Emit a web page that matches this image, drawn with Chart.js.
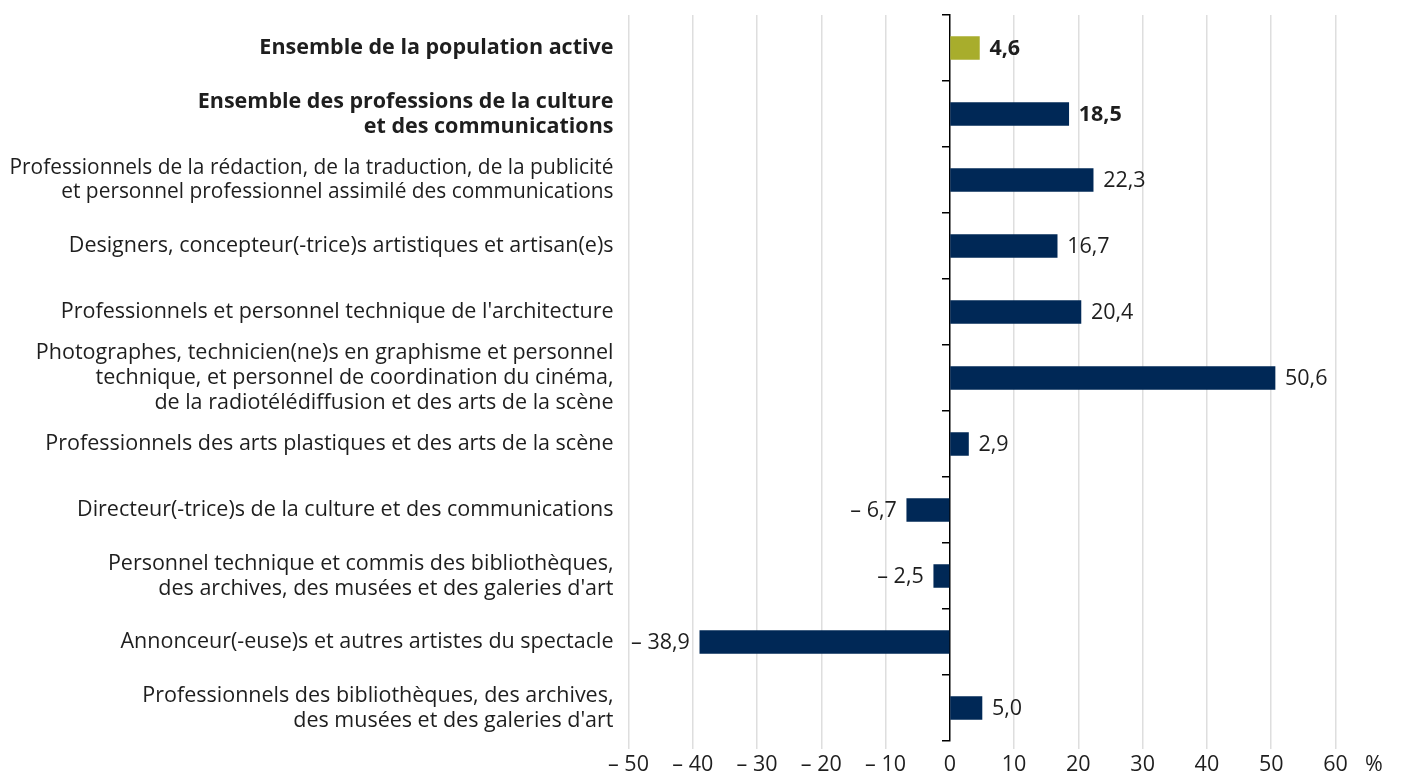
<!DOCTYPE html>
<html>
<head>
<meta charset="utf-8">
<script src="https://cdn.jsdelivr.net/npm/chart.js@4.4.1/dist/chart.umd.min.js"></script>
<style>
  html, body { margin: 0; padding: 0; background: #ffffff; }
  #wrap { position: relative; width: 1401px; height: 777px; }
</style>
</head>
<body>
<div id="wrap"><canvas id="c"></canvas></div>
<script>
const categories = [
  ["Ensemble de la population active"],
  ["Ensemble des professions de la culture", "et des communications"],
  ["Professionnels de la rédaction, de la traduction, de la publicité", "et personnel professionnel assimilé des communications"],
  ["Designers, concepteur(-trice)s artistiques et artisan(e)s"],
  ["Professionnels et personnel technique de l'architecture"],
  ["Photographes, technicien(ne)s en graphisme et personnel", "technique, et personnel de coordination du cinéma,", "de la radiotélédiffusion et des arts de la scène"],
  ["Professionnels des arts plastiques et des arts de la scène"],
  ["Directeur(-trice)s de la culture et des communications"],
  ["Personnel technique et commis des bibliothèques,", "des archives, des musées et des galeries d'art"],
  ["Annonceur(-euse)s et autres artistes du spectacle"],
  ["Professionnels des bibliothèques, des archives,", "des musées et des galeries d'art"]
];
const values = [4.6, 18.5, 22.3, 16.7, 20.4, 50.6, 2.9, -6.7, -2.5, -38.9, 5.0];
const boldRows = [0, 1];
const xTickValues = [-50, -40, -30, -20, -10, 0, 10, 20, 30, 40, 50, 60];
const unitTickValue = 66;
const unitLabel = "%";

const NAVY = "#002856";
const OLIVE = "#a8ad2c";
const TEXT = "#1e1e1e";
const GRID = "#dedede";
const FONT = "'Open Sans', 'Noto Sans', sans-serif";
const FS = 21.5;

function fmt(v, dec) {
  const s = Math.abs(v).toFixed(dec).replace('.', ',');
  return v < 0 ? "\u2013 " + s : s;
}

const valueLabelPlugin = {
  id: 'valueLabels',
  afterDatasetsDraw(chart) {
    const ctx = chart.ctx;
    const meta = chart.getDatasetMeta(0);
    ctx.save();
    ctx.fillStyle = TEXT;
    ctx.textBaseline = 'middle';
    meta.data.forEach((bar, i) => {
      const v = values[i];
      const bold = boldRows.includes(i);
      ctx.font = (bold ? '700 ' : '400 ') + FS + 'px ' + FONT;
      const txt = fmt(v, 1);
      if (v >= 0) {
        ctx.textAlign = 'left';
        ctx.fillText(txt, bar.x + 10, bar.y + 1);
      } else {
        ctx.textAlign = 'right';
        ctx.fillText(txt, bar.x - 10, bar.y + 1);
      }
    });
    ctx.restore();
  }
};

const canvas = document.getElementById('c');
new Chart(canvas, {
  type: 'bar',
  data: {
    labels: categories,
    datasets: [{
      data: values,
      backgroundColor: values.map((v, i) => i === 0 ? OLIVE : NAVY),
      borderWidth: 0,
      barThickness: 23,
      yAxisID: 'y'
    }]
  },
  options: {
    indexAxis: 'y',
    responsive: true,
    maintainAspectRatio: false,
    animation: false,
    devicePixelRatio: 1,
    layout: { padding: { top: 15, right: 27, left: 0, bottom: 0 } },
    plugins: { legend: { display: false }, tooltip: { enabled: false } },
    scales: {
      x: {
        type: 'linear',
        min: -50,
        max: unitTickValue,
        afterBuildTicks(scale) {
          scale.ticks = xTickValues.concat([unitTickValue]).map(v => ({ value: v }));
        },
        afterFit(scale) { scale.height = 36; },
        grid: {
          color: ctx => (ctx.tick && (ctx.tick.value === unitTickValue || ctx.tick.value === 0)) ? 'rgba(0,0,0,0)' : GRID,
          lineWidth: 1.5,
          drawTicks: true,
          tickLength: 8
        },
        border: { display: false },
        ticks: {
          autoSkip: false,
          maxRotation: 0,
          padding: 3,
          color: TEXT,
          font: { family: FONT, size: FS, lineHeight: 1.2 },
          callback: (v) => v === unitTickValue ? unitLabel : fmt(v, 0)
        }
      },
      y: {
        type: 'category',
        position: 'left',
        grid: { display: false, drawTicks: false },
        border: { display: false },
        afterFit(scale) {
          scale.width = 628.5;
          scale.paddingTop = 0;
          scale.paddingBottom = 0;
        },
        ticks: {
          autoSkip: false,
          padding: 15,
          color: TEXT,
          font: (ctx) => ({
            family: FONT,
            size: ctx.index === 2 ? 20.9 : FS,
            lineHeight: 1.17,
            weight: boldRows.includes(ctx.index) ? '700' : '400'
          })
        }
      },
      yAxis0: {
        type: 'category',
        position: { x: 0 },
        labels: categories,
        offset: true,
        ticks: { display: false },
        afterFit(scale) { scale.paddingTop = 0; scale.paddingBottom = 0; },
        grid: {
          offset: true,
          drawOnChartArea: false,
          drawTicks: true,
          tickLength: 7,
          color: '#000000',
          lineWidth: 1.5
        },
        border: { display: true, color: '#000000', width: 1.5 }
      }
    }
  },
  plugins: [valueLabelPlugin]
});
</script>
</body>
</html>
